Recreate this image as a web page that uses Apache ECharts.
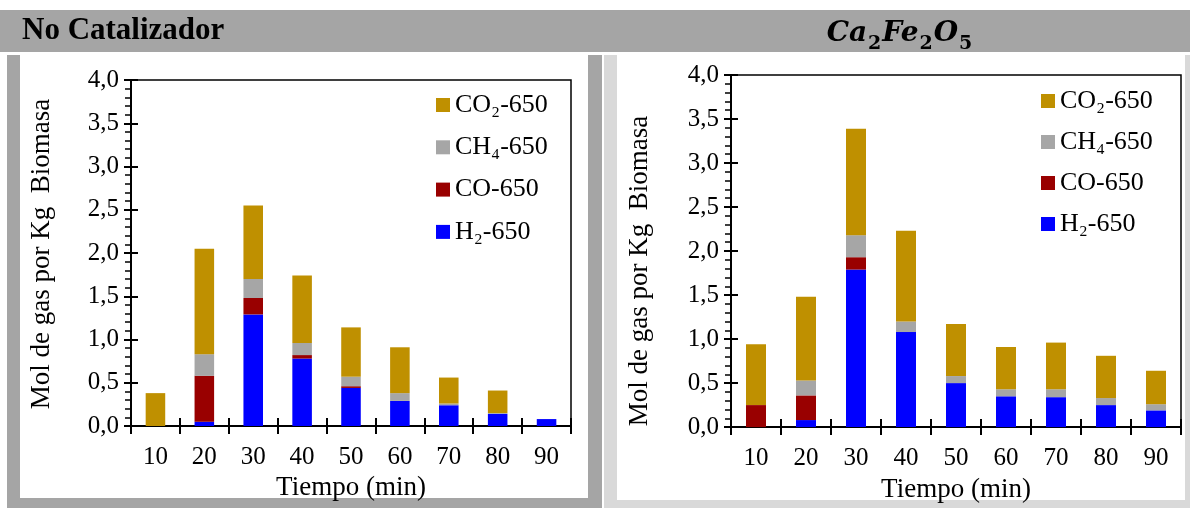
<!DOCTYPE html>
<html>
<head>
<meta charset="utf-8">
<script src="https://cdn.jsdelivr.net/npm/echarts@6/dist/echarts.min.js"></script>
<style>
  html, body { margin: 0; padding: 0; background: #fff; }
  #chart { width: 1190px; height: 508px; }
</style>
</head>
<body>
<div id="chart"></div>
<script>
// Sampling times (min)
const categories = ['10', '20', '30', '40', '50', '60', '70', '80', '90'];

// Gas yields without catalyst (mol / kg biomass)
const h2NoCat  = [0.00, 0.05, 1.29, 0.78, 0.44, 0.29, 0.24, 0.14, 0.08];
const coNoCat  = [0.00, 0.53, 0.19, 0.04, 0.02, 0.00, 0.00, 0.00, 0.00];
const ch4NoCat = [0.00, 0.25, 0.22, 0.14, 0.11, 0.09, 0.02, 0.01, 0.00];
const co2NoCat = [0.38, 1.22, 0.85, 0.78, 0.57, 0.53, 0.30, 0.26, 0.00];

// Gas yields with Ca2Fe2O5 (mol / kg biomass)
const h2Cat  = [0.00, 0.08, 1.79, 1.08, 0.50, 0.35, 0.34, 0.25, 0.19];
const coCat  = [0.25, 0.28, 0.14, 0.00, 0.00, 0.00, 0.00, 0.00, 0.00];
const ch4Cat = [0.00, 0.17, 0.25, 0.12, 0.08, 0.08, 0.09, 0.08, 0.07];
const co2Cat = [0.69, 0.95, 1.21, 1.03, 0.59, 0.48, 0.53, 0.48, 0.38];

// Y axis scale
const yMin = 0, yMax = 4, yStep = 0.5;

const seriesNames = ['H₂-650', 'CO-650', 'CH₄-650', 'CO₂-650'];
const legendOrder = ['CO₂-650', 'CH₄-650', 'CO-650', 'H₂-650'];
const colors = { 'H₂-650': '#0000ff', 'CO-650': '#990000', 'CH₄-650': '#a6a6a6', 'CO₂-650': '#bf9000' };

const FONT = '"Liberation Serif", "Times New Roman", serif';
const txt = { fontFamily: FONT, fontSize: 25, color: '#000' };
const nameTxt = { fontFamily: FONT, fontSize: 27, color: '#000' };

const chart = echarts.init(document.getElementById('chart'), null, { renderer: 'canvas' });

function mainX(grid) {
  return {
    type: 'category', gridIndex: grid, data: categories, position: 'bottom',
    axisLine: { lineStyle: { color: '#000', width: 2 } },
    axisTick: { show: true, length: 8, lineStyle: { color: '#000', width: 2 } },
    axisLabel: Object.assign({ margin: 19 }, txt),
    name: 'Tiempo (min)', nameLocation: 'middle',
    nameGap: grid === 0 ? 48 : 42,
    nameTextStyle: nameTxt,
    splitLine: { show: false }
  };
}
// second x axis on the same edge, only for the inward half of the tick marks
function overlayX(grid) {
  return {
    type: 'category', gridIndex: grid, data: categories, position: 'bottom',
    axisLine: { show: false },
    axisTick: { show: true, inside: true, length: 8, lineStyle: { color: '#000', width: 2 } },
    axisLabel: { show: false }, splitLine: { show: false }
  };
}
function mainY(grid) {
  return {
    type: 'value', gridIndex: grid, min: yMin, max: yMax, interval: yStep, position: 'left',
    axisLine: { show: true, lineStyle: { color: '#000', width: 2 } },
    axisTick: { show: true, length: 7, lineStyle: { color: '#000', width: 2 } },
    minorTick: { show: true, splitNumber: 5, length: 6, lineStyle: { color: '#000', width: 1.5 } },
    axisLabel: Object.assign({ margin: 12, formatter: v => v.toFixed(1).replace('.', ',') }, txt),
    splitLine: { show: false }, minorSplitLine: { show: false }
  };
}
// second y axis on the same edge, only for the inward half of the major ticks
function overlayY(grid) {
  return {
    type: 'value', gridIndex: grid, min: yMin, max: yMax, interval: yStep, position: 'left',
    axisLine: { show: false },
    axisTick: { show: true, inside: true, length: 7, lineStyle: { color: '#000', width: 2 } },
    axisLabel: { show: false }, splitLine: { show: false }
  };
}

function stackSeries(axisIdx, stackId, values) {
  return seriesNames.map((name, i) => ({
    name: name, type: 'bar', stack: stackId,
    xAxisIndex: axisIdx, yAxisIndex: axisIdx,
    barWidth: '40%',
    itemStyle: { color: colors[name] },
    data: values[i],
    animation: false
  }));
}

function legendAt(left, top, gap) {
  return {
    data: legendOrder, orient: 'vertical', left: left, top: top,
    padding: 0, itemWidth: 14, itemHeight: 14, itemGap: gap,
    icon: 'rect', textStyle: { fontFamily: FONT, fontSize: 26, color: '#000', lineHeight: 24 },
    selectedMode: false
  };
}

function yName(x, y) {
  return {
    type: 'text', x: x, y: y, rotation: Math.PI / 2,
    style: { text: 'Mol de gas por Kg  Biomasa', font: '27px ' + FONT, fill: '#000',
             textAlign: 'center', textVerticalAlign: 'middle' }
  };
}

chart.setOption({
  animation: false,
  backgroundColor: '#fff',
  graphic: [
    // header band
    { type: 'rect', z: -10, shape: { x: 0, y: 10, width: 1190, height: 42 }, style: { fill: '#a5a5a5' } },
    // left panel frame
    { type: 'rect', z: -10, shape: { x: 7, y: 55, width: 595, height: 453 }, style: { fill: '#a5a5a5' } },
    { type: 'rect', z: -9, shape: { x: 20, y: 55, width: 568, height: 443 }, style: { fill: '#fff' } },
    // right panel frame
    { type: 'rect', z: -10, shape: { x: 604, y: 55, width: 586, height: 453 }, style: { fill: '#d9d9d9' } },
    { type: 'rect', z: -9, shape: { x: 617, y: 55, width: 568, height: 445 }, style: { fill: '#fff' } },
    // panel titles
    { type: 'text', x: 22, y: 31,
      style: { text: 'No Catalizador', font: 'bold 31px ' + FONT, fill: '#000', textVerticalAlign: 'middle' } },
    { type: 'text', x: 900, y: 31,
      style: {
        text: '{a|Ca}{s|2}{a|Fe}{s|2}{a|O}{s|5}',
        textAlign: 'center', textVerticalAlign: 'middle',
        rich: {
          a: { fontFamily: '"DejaVu Serif", serif', fontStyle: 'italic', fontWeight: 'bold', fontSize: 28, color: '#000', lineHeight: 34, verticalAlign: 'bottom' },
          s: { fontFamily: '"DejaVu Serif", serif', fontWeight: 'bold', fontSize: 19, color: '#000', lineHeight: 26, verticalAlign: 'bottom', padding: [0, 1, -6, 1] }
        }
      } },
    yName(42, 254),
    yName(640, 271)
  ],
  grid: [
    { left: 131, top: 80, width: 440, height: 346, show: true, borderColor: '#000', borderWidth: 1.5, backgroundColor: 'transparent' },
    { left: 731, top: 75, width: 450, height: 356, show: true, borderColor: '#000', borderWidth: 1.5, backgroundColor: 'transparent' }
  ],
  legend: [legendAt(436, 92, 16.3), legendAt(1041, 88, 15)],
  xAxis: [mainX(0), overlayX(0), mainX(1), overlayX(1)],
  yAxis: [mainY(0), overlayY(0), mainY(1), overlayY(1)],
  series: [
    ...stackSeries(0, 'noCat', [h2NoCat, coNoCat, ch4NoCat, co2NoCat]),
    ...stackSeries(2, 'cat', [h2Cat, coCat, ch4Cat, co2Cat])
  ]
});
</script>
</body>
</html>
